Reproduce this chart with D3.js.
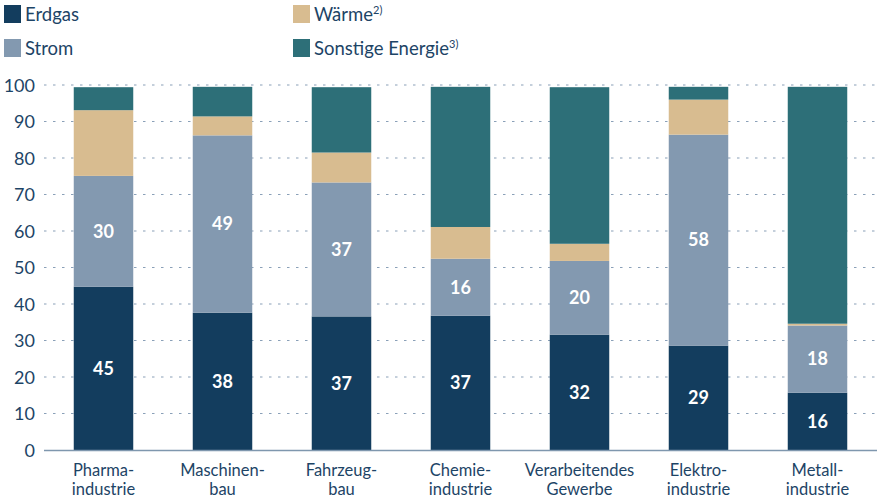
<!DOCTYPE html>
<html><head><meta charset="utf-8">
<script src="https://cdn.jsdelivr.net/npm/d3@7"></script>
<style>
html,body{margin:0;padding:0;background:#fff;}
svg{display:block;font-family:"Lato","Noto Sans",sans-serif;}
</style></head>
<body><svg id="c" width="877" height="499"></svg>
<script>
const categories = [["Pharma-","industrie"],["Maschinen-","bau"],["Fahrzeug-","bau"],["Chemie-","industrie"],["Verarbeitendes","Gewerbe"],["Elektro-","industrie"],["Metall-","industrie"]];
const erdgas   = [44.7, 37.6, 36.6, 36.8, 31.6, 28.6, 15.7];
const strom    = [30.4, 48.6, 36.7, 15.6, 20.2, 57.8, 18.4];
const waerme   = [18.0, 5.2, 8.2, 8.7, 4.7, 9.6, 0.5];
const sonstige = [6.3, 8.1, 17.9, 38.4, 42.9, 3.5, 64.9];
const yTicks = [0,10,20,30,40,50,60,70,80,90,100];
const seriesNames = ["Erdgas","Strom","Wärme","Sonstige Energie"];
const seriesSup = ["", "", "2)", "3)"];
const colors = ["#133d5e","#8399b0","#d8bc90","#2d6f78"];
const labelled = [true,true,false,false];

const svg = d3.select("#c");
const textColor = "#1d4466";
const font = "Lato, 'Noto Sans', sans-serif";

const keys = ["erdgas","strom","waerme","sonstige"];
const rows = categories.map((c,i)=>({i, erdgas:erdgas[i], strom:strom[i], waerme:waerme[i], sonstige:sonstige[i]}));
const stack = d3.stack().keys(keys)(rows);

const x = d3.scaleBand().domain(d3.range(categories.length)).range([44,877]).paddingInner(0.5).paddingOuter(0.25);
const y = d3.scaleLinear().domain([0,100]).range([450,85]);

// grid
svg.append("g").selectAll("line").data(yTicks.filter(t=>t>0)).join("line")
  .attr("x1",44).attr("x2",877).attr("y1",d=>y(d)).attr("y2",d=>y(d))
  .attr("stroke","#8aa0b8").attr("stroke-width",1.2).attr("stroke-dasharray","2.5,6.5");

// y axis labels
const yAxis = d3.axisLeft(y).tickValues(yTicks).tickSize(0).tickPadding(0);
const ga = svg.append("g").attr("transform","translate(35,0)").call(yAxis);
ga.select(".domain").remove();
ga.selectAll("text").attr("fill",textColor).attr("font-family",font).attr("font-size",18).attr("dy","0.35em");

// bars
const groups = svg.append("g").selectAll("g").data(stack).join("g").attr("fill",(d,i)=>colors[i]);
groups.selectAll("rect").data(d=>d).join("rect")
  .attr("x",(d,i)=>x(i)).attr("width",x.bandwidth())
  .attr("y",d=>y(d[1])).attr("height",d=>y(d[0])-y(d[1]));

// labels
stack.forEach((s,si)=>{
  if(!labelled[si]) return;
  svg.append("g").selectAll("text").data(s).join("text")
    .attr("x",(d,i)=>x(i)+x.bandwidth()/2).attr("y",d=>(y(d[0])+y(d[1]))/2)
    .attr("dy","0.35em").attr("text-anchor","middle").attr("fill","#fff")
    .attr("font-family",font).attr("font-weight",700).attr("font-size",18)
    .text(d=>d3.format(".0f")(d[1]-d[0]));
});

// baseline
svg.append("line").attr("x1",44).attr("x2",877).attr("y1",y(0)+0.5).attr("y2",y(0)+0.5)
  .attr("stroke","#7f97ae").attr("stroke-width",1.5);

// x labels
const xl = svg.append("g").selectAll("text").data(categories).join("text")
  .attr("text-anchor","middle").attr("fill",textColor).attr("font-family",font).attr("font-size",16.5)
  .attr("x",(d,i)=>x(i)+x.bandwidth()/2);
xl.selectAll("tspan").data(d=>d).join("tspan")
  .attr("x",function(){return this.parentNode.getAttribute("x");})
  .attr("y",(d,j)=>476+j*19).text(d=>d);

// legend
const legPos = [[4,5],[4,39],[293,5],[293,39]];
const lg = svg.append("g").selectAll("g").data(seriesNames).join("g")
  .attr("transform",(d,i)=>`translate(${legPos[i][0]},${legPos[i][1]})`);
lg.append("rect").attr("width",17).attr("height",18).attr("fill",(d,i)=>colors[i]);
const lt = lg.append("text").attr("x",21).attr("y",16).attr("fill",textColor)
  .attr("font-family",font).attr("font-size",18.5);
lt.append("tspan").text(d=>d);
lt.append("tspan").attr("font-size",11).attr("dy",-7).text((d,i)=>seriesSup[i]);
</script></body></html>
